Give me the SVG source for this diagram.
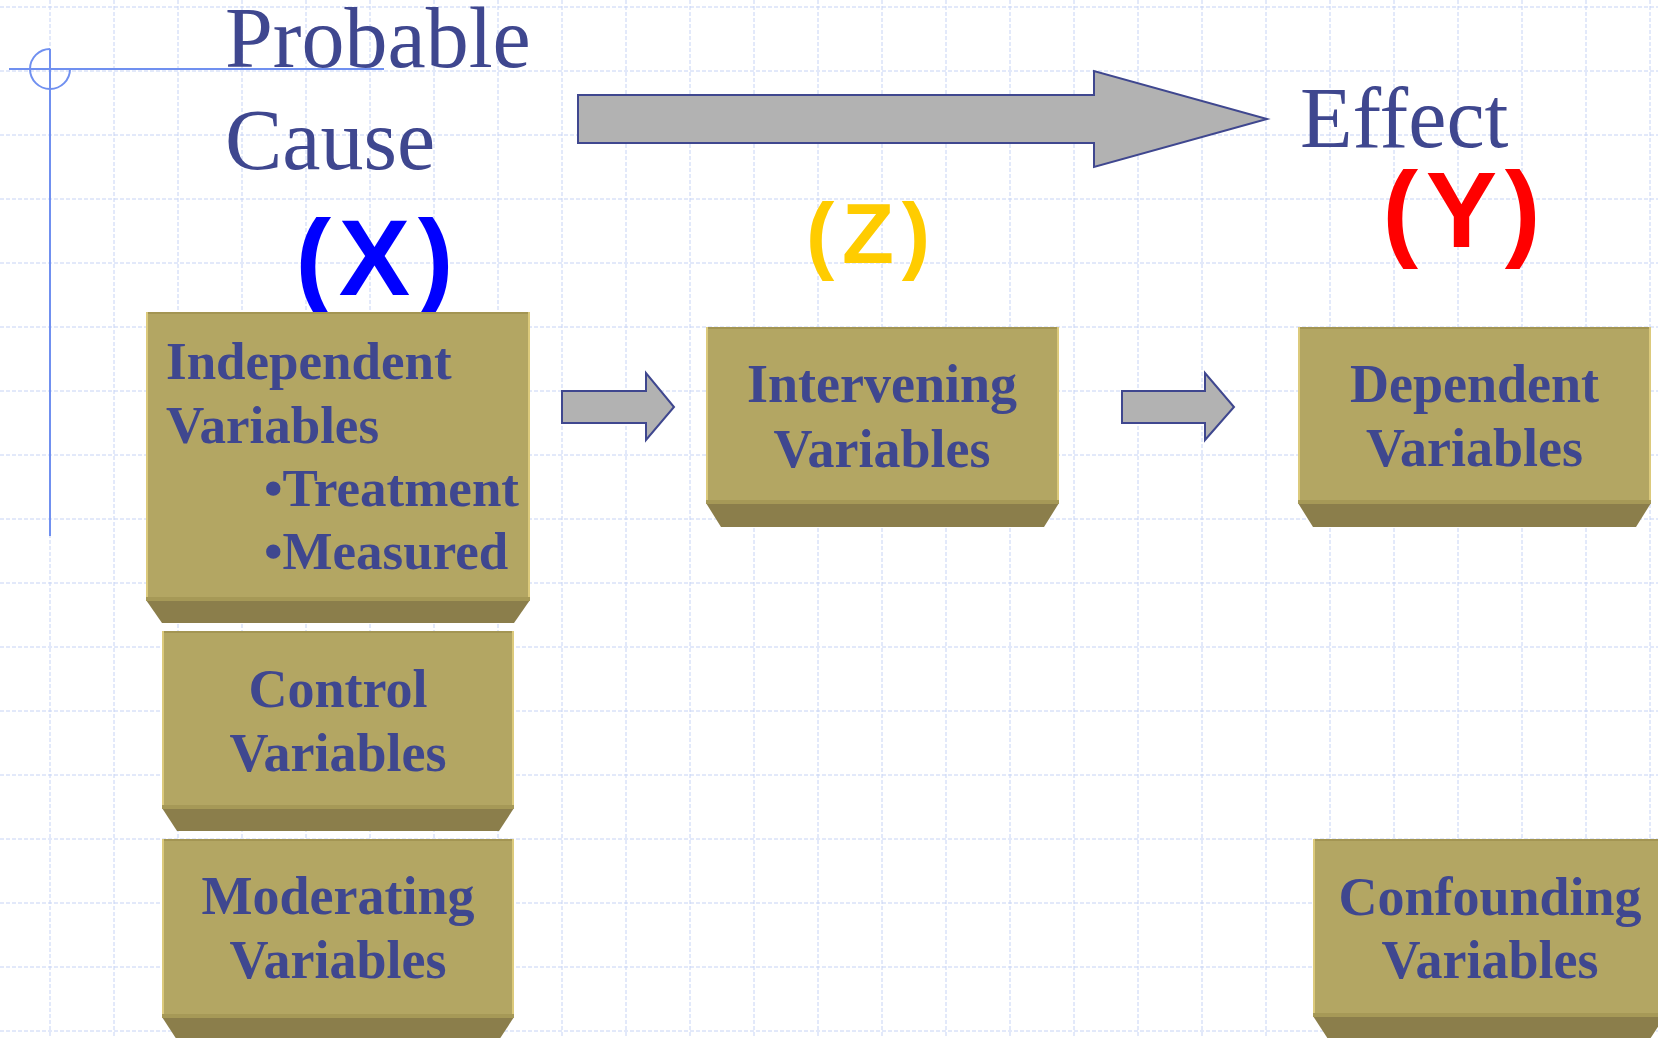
<svg xmlns="http://www.w3.org/2000/svg" width="1658" height="1038" viewBox="0 0 1658 1038">
<style>
.grid{stroke:#c6d3f5;stroke-width:1;stroke-dasharray:4 2;fill:none}
.guide{stroke:#7090f0;stroke-width:2;fill:none}
.title{font-family:"Liberation Serif","Times New Roman",serif;font-size:86px;fill:#3f478f}
.var{font-family:"Liberation Sans",Arial,sans-serif;font-weight:bold}
.face{fill:#b3a663}
.bottom{fill:#8b7e4b}
.band{fill:#a69957}
.hl{fill:#dcca7c}
.edge{fill:#a39553}
.lbl{font-family:"Liberation Serif","Times New Roman",serif;font-weight:bold;font-size:54px;fill:#3f478f}
.lbl.sm{font-size:53px}
.c{text-anchor:middle}
.arrow{fill:#b2b2b2;stroke:#3f478f;stroke-width:2;stroke-linejoin:miter}
</style>
<rect width="1658" height="1038" fill="#ffffff"/>
<g id="grid" class="grid">
<path d="M50,0V1038M114,0V1038M178,0V1038M242,0V1038M306,0V1038M370,0V1038M434,0V1038M498,0V1038M562,0V1038M626,0V1038M690,0V1038M754,0V1038M818,0V1038M882,0V1038M946,0V1038M1010,0V1038M1074,0V1038M1138,0V1038M1202,0V1038M1266,0V1038M1330,0V1038M1394,0V1038M1458,0V1038M1522,0V1038M1586,0V1038M1650,0V1038"/>
<path d="M0,7H1658M0,71H1658M0,135H1658M0,199H1658M0,263H1658M0,327H1658M0,391H1658M0,455H1658M0,519H1658M0,583H1658M0,647H1658M0,711H1658M0,775H1658M0,839H1658M0,903H1658M0,967H1658M0,1031H1658"/>
</g>
<g id="guides" class="guide">
<line x1="9" y1="69" x2="384" y2="69"/>
<line x1="50" y1="49" x2="50" y2="536"/>
<path d="M50,49 A20,20 0 1,0 70,69"/>
</g>
<g id="titles">
<text class="title" x="225" y="67">Probable</text>
<text class="title" x="225" y="169">Cause</text>
<text class="title" x="1300" y="147">Effect</text>
</g>
<g id="var-labels">
<text class="var c" x="374.5" y="295" font-size="107" fill="#0000ff" textLength="158" lengthAdjust="spacing">(X)</text>
<text class="var c" x="868" y="263" font-size="85" fill="#ffcc00" textLength="124" lengthAdjust="spacing">(Z)</text>
<text class="var c" x="1461.5" y="247" font-size="107" fill="#ff0000" textLength="158" lengthAdjust="spacing">(Y)</text>
</g>
<g id="connectors">
<polygon class="arrow" points="578,95 1094,95 1094,71 1267,119 1094,167 1094,143 578,143"/>
<polygon class="arrow" points="562,391 646,391 646,373 674,407 646,440 646,423 562,423"/>
<polygon class="arrow" points="1122,391 1205,391 1205,373 1234,407 1205,440 1205,423 1122,423"/>
</g>
<g id="node-independent">
<rect class="face" x="146" y="312" width="384" height="288"/>
<rect class="edge" x="146" y="312" width="384" height="2"/>
<rect class="hl" x="146" y="312" width="2" height="288"/>
<rect class="hl" x="528" y="312" width="2" height="288"/>
<polygon class="bottom" points="146,600 530,600 514,623 162,623"/>
<rect class="band" x="146" y="597" width="384" height="4"/>
<text class="lbl sm" x="166" y="379">Independent</text>
<text class="lbl sm" x="166" y="443">Variables</text>
<text class="lbl sm" x="264" y="506">•Treatment</text>
<text class="lbl sm" x="264" y="569">•Measured</text>
</g>
<g id="node-intervening">
<rect class="face" x="706" y="327" width="353" height="176"/>
<rect class="edge" x="706" y="327" width="353" height="2"/>
<rect class="hl" x="706" y="327" width="2" height="176"/>
<rect class="hl" x="1057" y="327" width="2" height="176"/>
<polygon class="bottom" points="706,503 1059,503 1044,527 721,527"/>
<rect class="band" x="706" y="500" width="353" height="4"/>
<text class="lbl c" x="882" y="402">Intervening</text>
<text class="lbl c" x="882" y="467">Variables</text>
</g>
<g id="node-dependent">
<rect class="face" x="1298" y="327" width="353" height="176"/>
<rect class="edge" x="1298" y="327" width="353" height="2"/>
<rect class="hl" x="1298" y="327" width="2" height="176"/>
<rect class="hl" x="1649" y="327" width="2" height="176"/>
<polygon class="bottom" points="1298,503 1651,503 1636,527 1313,527"/>
<rect class="band" x="1298" y="500" width="353" height="4"/>
<text class="lbl c" x="1474.5" y="402">Dependent</text>
<text class="lbl c" x="1474.5" y="466">Variables</text>
</g>
<g id="node-control">
<rect class="face" x="162" y="631" width="352" height="177"/>
<rect class="edge" x="162" y="631" width="352" height="2"/>
<rect class="hl" x="162" y="631" width="2" height="177"/>
<rect class="hl" x="512" y="631" width="2" height="177"/>
<polygon class="bottom" points="162,808 514,808 499,831 177,831"/>
<rect class="band" x="162" y="805" width="352" height="4"/>
<text class="lbl c" x="338" y="707">Control</text>
<text class="lbl c" x="338" y="771">Variables</text>
</g>
<g id="node-moderating">
<rect class="face" x="162" y="839" width="352" height="178"/>
<rect class="edge" x="162" y="839" width="352" height="2"/>
<rect class="hl" x="162" y="839" width="2" height="178"/>
<rect class="hl" x="512" y="839" width="2" height="178"/>
<polygon class="bottom" points="162,1017 514,1017 499,1040 177,1040"/>
<rect class="band" x="162" y="1014" width="352" height="4"/>
<text class="lbl c" x="338" y="914">Moderating</text>
<text class="lbl c" x="338" y="978">Variables</text>
</g>
<g id="node-confounding">
<rect class="face" x="1313" y="839" width="352" height="177"/>
<rect class="edge" x="1313" y="839" width="352" height="2"/>
<rect class="hl" x="1313" y="839" width="2" height="177"/>
<polygon class="bottom" points="1313,1016 1665,1016 1650,1039 1328,1039"/>
<rect class="band" x="1313" y="1013" width="352" height="4"/>
<text class="lbl c" x="1490" y="915">Confounding</text>
<text class="lbl c" x="1490" y="978">Variables</text>
</g>
</svg>
